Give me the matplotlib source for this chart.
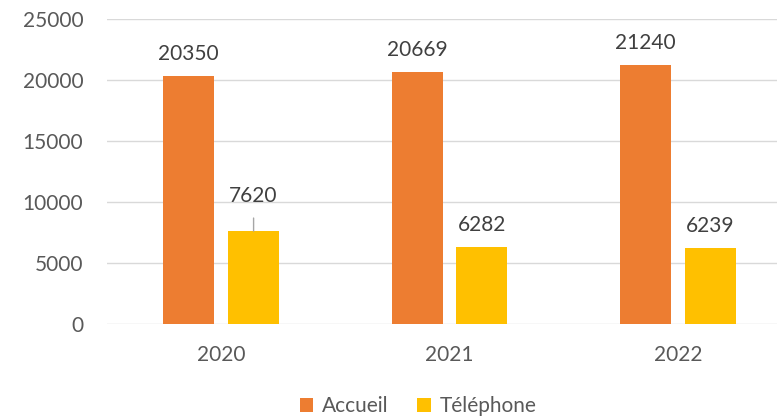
import numpy as np
import matplotlib.pyplot as plt

# données
annees = ['2020', '2021', '2022']
accueil = [20350, 20669, 21240]
telephone = [7620, 6282, 6239]
yticks = [0, 5000, 10000, 15000, 20000, 25000]

orange = '#ED7D31'
jaune = '#FFC000'
gris_txt = '#595959'

plt.rcParams['font.family'] = ['Lato', 'DejaVu Sans']

fig = plt.figure(figsize=(7.77, 4.18), dpi=100)
ax = fig.add_axes([107 / 777, 94 / 418, (792 - 107) / 777, 305 / 418])

x = np.arange(len(annees))
larg = 0.223
dec = 0.142
b1 = ax.bar(x - dec, accueil, larg, color=orange, label='Accueil', zorder=3)
b2 = ax.bar(x + dec, telephone, larg, color=jaune, label='Téléphone', zorder=3)

ax.set_xlim(-0.5, 2.5)
ax.set_ylim(0, 25000)
ax.set_yticks(yticks)
ax.set_xticks(x)
ax.set_xticklabels(annees)
ax.tick_params(axis='both', length=0, labelsize=15, colors=gris_txt)
ax.tick_params(axis='y', pad=17)
ax.tick_params(axis='x', pad=15)
ax.grid(axis='y', color='#D9D9D9', linewidth=1, zorder=0)
for s in ax.spines.values():
    s.set_visible(False)

# étiquettes de valeurs
for rect, v in zip(list(b1) + list(b2), accueil + telephone):
    cx = rect.get_x() + rect.get_width() / 2
    if v == 7620:
        # étiquette déplacée avec ligne de rappel
        ax.annotate('', xy=(cx, v), xytext=(0, 13), textcoords='offset pixels',
                    arrowprops=dict(arrowstyle='-', color='#A6A6A6', lw=1,
                                    shrinkA=0, shrinkB=0))
        ax.annotate(str(v), (cx, v), xytext=(0, 25), textcoords='offset pixels',
                    ha='center', va='bottom', fontsize=15, color='#404040')
    else:
        ax.annotate(str(v), (cx, v), xytext=(0, 12), textcoords='offset pixels',
                    ha='center', va='bottom', fontsize=15, color='#404040')

fig.legend(handles=[b1, b2], loc='center', bbox_to_anchor=(418 / 777, 1 - 406 / 418),
           ncol=2, frameon=False, fontsize=15, labelcolor=gris_txt,
           handlelength=0.65, handleheight=0.65, handletextpad=0.4, columnspacing=1.4)

fig.savefig('out.png', dpi=100)
